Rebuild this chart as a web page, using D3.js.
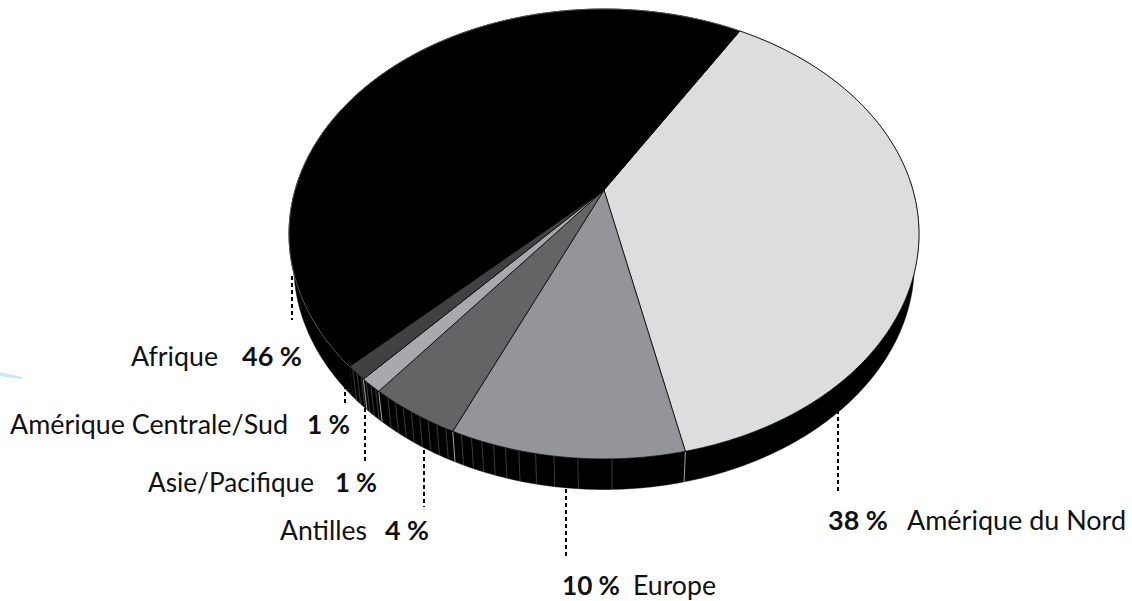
<!DOCTYPE html>
<html>
<head>
<meta charset="utf-8">
<script src="https://cdn.jsdelivr.net/npm/d3@7"></script>
<style>
  html, body { margin: 0; padding: 0; background: #fff; }
  text { font-family: Lato, "Noto Sans", sans-serif; font-size: 26px; fill: #111; }
  .pct { font-weight: 700; }
</style>
</head>
<body>
<div id="container"></div>
<script>
/*** DATA ***/
const categories = ["Amérique du Nord", "Europe", "Antilles", "Asie/Pacifique", "Amérique Centrale/Sud", "Afrique"];
const values = [38, 10, 4, 1, 1, 46];
const sliceColors = ["#dcddde", "#939598", "#636466", "#a7a9ac", "#414042", "#000000"];
// thin lines on the side wall, in degrees clockwise from the top of the pie
const facetAngles = [178.8, 183.9, 187.5, 190.3, 192.9, 195, 196.9, 198.8, 200.5, 202.2,
  204.9, 206.5, 208.1, 209.7, 211.3, 212.9, 214.5, 216.1, 218.8, 219.9, 221, 222.2, 223.3, 224.4];

/*** LAYOUT ***/
const width = 1132, height = 601;
const startDeg = 30.9;
const depth = 30.5;
const shrink = 0.985; // the underside of the disc is a bit narrower
// tilted disc: the apex is above the middle of the ellipse
const tilt = { cx: 604, cy: 190, r: 308.9, a: 179.2, c: -0.1956 };

const labelLayout = [
  { nx: 907, nw: 219, px: 828, pw: 60, y: 530, lx: 838, l0: 410, l1: 493 },
  { nx: 633, nw: 83, px: 562, pw: 58, y: 595, lx: 566, l0: 489, l1: 557 },
  { nx: 280, nw: 87, px: 385, pw: 44, y: 540, lx: 424, l0: 450, l1: 507 },
  { nx: 148, nw: 166, px: 335, pw: 42, y: 492, lx: 365, l0: 408, l1: 461 },
  { nx: 10, nw: 278, px: 307, pw: 43, y: 434, lx: 345, l0: 385, l1: 403 },
  { nx: 131, nw: 87, px: 242, pw: 60, y: 366, lx: 292, l0: 276, l1: 320 }
];

const svg = d3.select("#container").append("svg")
  .attr("width", width)
  .attr("height", height)
  .style("display", "block");

// point on the disc edge for a pie angle (radians, clockwise from top)
function rim(t, dy = 0) {
  const u = Math.sin(t), v = -Math.cos(t);
  const w = 1 + tilt.c * v;
  const k = dy ? shrink : 1;
  return [tilt.cx + k * tilt.r * u / w, (tilt.a * v + tilt.cy) / w + dy];
}

function arcPoints(t0, t1, dy = 0) {
  const n = Math.max(2, Math.ceil(Math.abs(t1 - t0) / 0.01));
  return d3.range(n + 1).map(i => rim(t0 + (t1 - t0) * i / n, dy));
}

const line = d3.line();
const rad = d => d * Math.PI / 180;

const pie = d3.pie().sort(null).startAngle(rad(startDeg)).endAngle(rad(startDeg + 360));
const slices = pie(values);

// stray tint at the left edge of the scan
svg.append("path")
  .attr("d", "M0,372L22,377L21,379L0,376Z")
  .attr("fill", "#c4e8f6");

// leader lines
svg.selectAll("line.leader")
  .data(labelLayout)
  .join("line")
  .attr("class", "leader")
  .attr("x1", d => d.lx).attr("x2", d => d.lx)
  .attr("y1", d => d.l0).attr("y2", d => d.l1)
  .attr("stroke", "#000")
  .attr("stroke-width", 2)
  .attr("stroke-dasharray", "4 3");

// side wall
svg.selectAll("path.wall")
  .data(slices)
  .join("path")
  .attr("class", "wall")
  .attr("d", d => line(arcPoints(d.startAngle, d.endAngle).concat(arcPoints(d.endAngle, d.startAngle, depth))) + "Z")
  .attr("fill", "#000")
  .attr("stroke", "#000")
  .attr("stroke-width", 0.5);

svg.selectAll("line.facet")
  .data(facetAngles)
  .join("line")
  .attr("class", "facet")
  .attr("x1", d => rim(rad(d))[0]).attr("y1", d => rim(rad(d))[1])
  .attr("x2", d => rim(rad(d), depth)[0]).attr("y2", d => rim(rad(d), depth)[1])
  .attr("stroke", "#555")
  .attr("stroke-width", 0.7);

// lighter seams at the slice edges
svg.selectAll("line.seam")
  .data(slices.slice(0, 4))
  .join("line")
  .attr("class", "seam")
  .attr("x1", d => rim(d.endAngle)[0]).attr("y1", d => rim(d.endAngle)[1])
  .attr("x2", d => rim(d.endAngle, depth)[0]).attr("y2", d => rim(d.endAngle, depth)[1])
  .attr("stroke", "#a0a0a0")
  .attr("stroke-width", 1);

// top face
svg.selectAll("path.slice")
  .data(slices)
  .join("path")
  .attr("class", "slice")
  .attr("d", d => line([[tilt.cx, tilt.cy]].concat(arcPoints(d.startAngle, d.endAngle))) + "Z")
  .attr("fill", (d, i) => sliceColors[i])
  .attr("stroke", "#000")
  .attr("stroke-width", 0.8)
  .attr("stroke-linejoin", "round");

// hairline on the rim of the black slice
svg.append("path")
  .attr("d", line(arcPoints(slices[5].startAngle, slices[5].endAngle)))
  .attr("fill", "none")
  .attr("stroke", "#8a8a8a")
  .attr("stroke-width", 0.6);

// labels
svg.selectAll("text.name")
  .data(categories)
  .join("text")
  .attr("class", "name")
  .attr("x", (d, i) => labelLayout[i].nx)
  .attr("y", (d, i) => labelLayout[i].y)
  .attr("textLength", (d, i) => labelLayout[i].nw)
  .attr("lengthAdjust", "spacingAndGlyphs")
  .text(d => d);

svg.selectAll("text.pct")
  .data(values)
  .join("text")
  .attr("class", "pct")
  .attr("x", (d, i) => labelLayout[i].px)
  .attr("y", (d, i) => labelLayout[i].y)
  .attr("textLength", (d, i) => labelLayout[i].pw)
  .attr("lengthAdjust", "spacingAndGlyphs")
  .text(d => d + " %");
</script>
</body>
</html>
